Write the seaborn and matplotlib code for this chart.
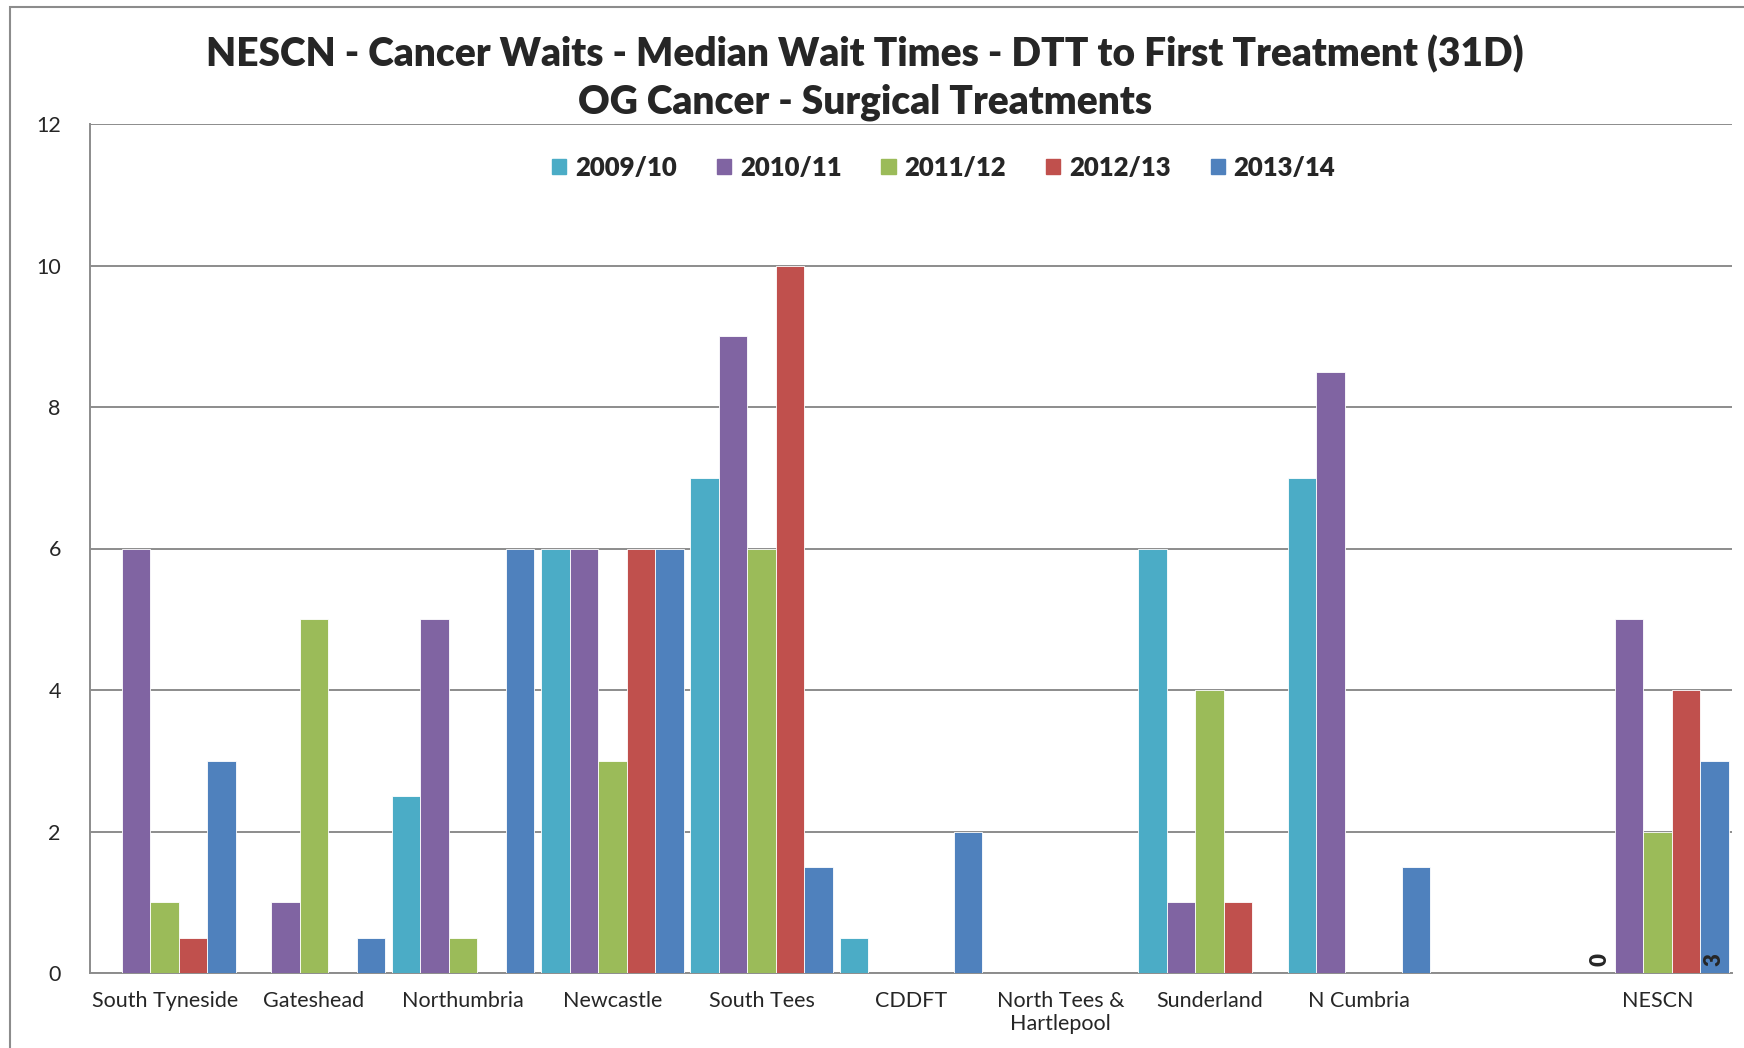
import pandas as pd
import matplotlib.pyplot as plt
import matplotlib.patches as mpatches
import seaborn as sns

regions = ["South Tyneside", "Gateshead", "Northumbria", "Newcastle", "South Tees", "CDDFT",
           "North Tees &\nHartlepool", "Sunderland", "N Cumbria", " ", "NESCN"]
years = ["2009/10", "2010/11", "2011/12", "2012/13", "2013/14"]
y2009 = [0, 0, 2.5, 6, 7, 0.5, 0, 6, 7, 0, 0]
y2010 = [6, 1, 5, 6, 9, 0, 0, 1, 8.5, 0, 5]
y2011 = [1, 5, 0.5, 3, 6, 0, 0, 4, 0, 0, 2]
y2012 = [0.5, 0, 0, 6, 10, 0, 0, 1, 0, 0, 4]
y2013 = [3, 0.5, 6, 6, 1.5, 2, 0, 0, 1.5, 0, 3]
colors = ["#4BACC6", "#8064A2", "#9BBB59", "#C0504D", "#4F81BD"]

rows = []
for yr, vals in zip(years, [y2009, y2010, y2011, y2012, y2013]):
    for r, v in zip(regions, vals):
        rows.append({"Region": r, "Year": yr, "Weeks": v})
df = pd.DataFrame(rows)

sns.set_style("white")
plt.rcParams["font.family"] = ["Lato", "DejaVu Sans"]

fig = plt.figure(figsize=(17.44, 10.48), dpi=100)
ax = fig.add_axes([90 / 1744, 1 - 973 / 1048, (1732 - 90) / 1744, (973 - 124) / 1048])

sns.barplot(data=df, x="Region", y="Weeks", hue="Year", order=regions, hue_order=years,
            palette=colors, width=0.955, gap=0, saturation=1, errorbar=None,
            edgecolor="white", linewidth=0.6, ax=ax, zorder=3)

ax.set_ylim(0, 12)
ax.set_yticks(range(0, 13, 2))
ax.set_xlim(-0.5, len(regions) - 0.5)
ax.yaxis.grid(True, color="#8c8c8c", linewidth=1.4, zorder=0)
ax.set_axisbelow(True)
for side in ["top", "right"]:
    ax.spines[side].set_visible(False)
for side in ["left", "bottom"]:
    ax.spines[side].set_color("#8c8c8c")
    ax.spines[side].set_linewidth(1.4)
ax.set_xlabel("")
ax.set_ylabel("")

# category ticks sit on the boundaries, labels at the centres
ax.set_xticks([i - 0.5 for i in range(len(regions) + 1)], minor=False)
ax.set_xticklabels([])
ax.set_xticks(range(len(regions)), minor=True)
ax.set_xticklabels(regions, minor=True, fontsize=15.5, linespacing=1.2)
ax.tick_params(axis="x", which="major", length=6, color="#8c8c8c", width=1.4, direction="out")
ax.tick_params(axis="x", which="minor", length=0, pad=13)
ax.tick_params(axis="y", length=7, color="#8c8c8c", width=1.4, direction="out", labelsize=15.5, pad=14)

# data labels on NESCN
last = len(regions) - 1
for k, vals in [(0, y2009), (4, y2013)]:
    bar = ax.containers[k][last]
    ax.text(bar.get_x() + bar.get_width() / 2, 0.1, f"{vals[last]:g}", rotation=90,
            ha="center", va="bottom", fontsize=16, fontweight="heavy", zorder=5)

handles = [mpatches.Patch(color=c, label=y) for c, y in zip(colors, years)]
ax.legend(handles=handles, loc="upper center", bbox_to_anchor=(0.52, 0.99), ncol=5,
          frameon=False, prop={"weight": "heavy", "size": 18.5}, handlelength=0.55,
          handleheight=0.55, handletextpad=0.35, columnspacing=1.55)

fig.text(0.496, 1 - 54 / 1048, "NESCN - Cancer Waits - Median Wait Times - DTT to First Treatment (31D)",
         ha="center", va="center", fontsize=28, fontweight="heavy")
fig.text(0.496, 1 - 102 / 1048, "OG Cancer - Surgical Treatments",
         ha="center", va="center", fontsize=28, fontweight="heavy")

fig.patches.append(mpatches.Rectangle((10 / 1744, -0.1), 1.2, 1.1 - 7 / 1048, transform=fig.transFigure,
                                      fill=False, edgecolor="#8c8c8c", linewidth=1.5))

fig.savefig("out.png", dpi=100)
